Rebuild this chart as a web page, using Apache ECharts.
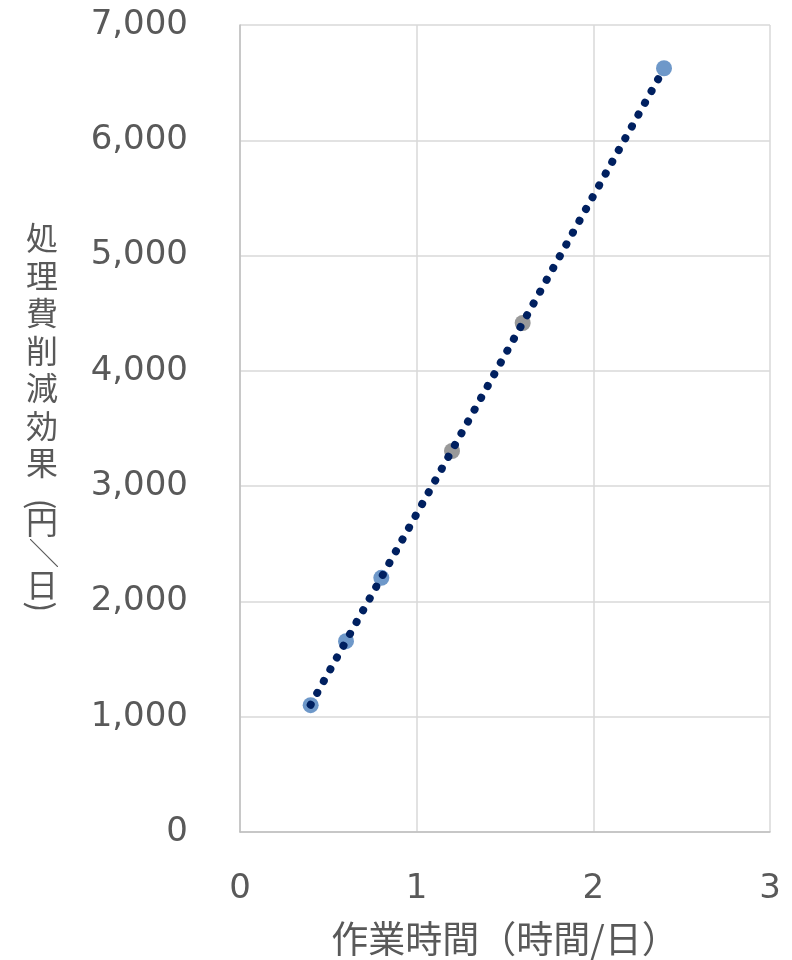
<!DOCTYPE html>
<html>
<head>
<meta charset="utf-8">
<script src="https://cdn.jsdelivr.net/npm/echarts@6/dist/echarts.min.js"></script>
<style>
  html, body { margin: 0; padding: 0; background: #fff; }
  #chart { width: 792px; height: 960px; }
</style>
</head>
<body>
<div id="chart"></div>
<script>
// 作業時間（時間/日） vs 処理費削減効果（円/日）
var bluePoints = [[0.4, 1100], [0.6, 1655], [0.8, 2205], [2.4, 6625]]
var grayPoints = [[1.2, 3305], [1.6, 4415]]
// linear trendline end points
var trendLine = [[0.4, 1104], [2.4, 6622]]

var xTicks = [0, 1, 2, 3]
var yTicks = [0, 1000, 2000, 3000, 4000, 5000, 6000, 7000]

var labelFont = '"DejaVu Sans", Verdana, sans-serif'
var cjkFont = '"Noto Sans CJK JP", sans-serif'

// vertical axis title, one character per line; the brackets are drawn
// separately (rotated) because they lie sideways in vertical writing
var yNameMain = ['処', '理', '費', '削', '減', '効', '果']
var yName = yNameMain.map(function (c) { return '{a|' + c + '}' })
  .concat(['{g1|　}', '{u1|円}', '{s|╲}', '{u2|日}', '{g2|　}'])
  .join('\n')

function nameStyle(lh, size) {
  return { fontFamily: cjkFont, fontSize: size || 32, color: '#595959', lineHeight: lh }
}

function sideBracket(ch, y) {
  return {
    type: 'text',
    x: 42,
    y: y,
    rotation: -Math.PI / 2,
    style: {
      text: ch,
      fontFamily: cjkFont,
      fontSize: 32,
      fill: '#595959',
      align: 'center',
      verticalAlign: 'middle'
    }
  }
}

var chart = echarts.init(document.getElementById('chart'))
var option = {
  animation: false,
  grid: { left: 240, right: 22, top: 25, bottom: 128, outerBoundsMode: 'none' },
  graphic: [sideBracket('(', 504), sideBracket(')', 607)],
  xAxis: {
    type: 'value',
    min: xTicks[0],
    max: xTicks[xTicks.length - 1],
    interval: 1,
    name: '作業時間（時間/日）',
    nameLocation: 'middle',
    nameGap: 88,
    nameTextStyle: { fontFamily: cjkFont, fontSize: 37, color: '#595959' },
    axisLine: { show: true, onZero: false, lineStyle: { color: '#bfbfbf', width: 1.5 } },
    axisTick: { show: false },
    axisLabel: { fontFamily: labelFont, fontSize: 34, color: '#595959', margin: 40 },
    splitLine: { show: true, lineStyle: { color: '#d9d9d9', width: 1.5 } }
  },
  yAxis: {
    type: 'value',
    min: yTicks[0],
    max: yTicks[yTicks.length - 1],
    interval: 1000,
    name: yName,
    nameLocation: 'middle',
    nameRotate: 0,
    nameGap: 182,
    nameTextStyle: {
      fontFamily: cjkFont, fontSize: 32, color: '#595959', lineHeight: 37.5,
      rich: {
        a: nameStyle(37.5),
        g1: nameStyle(24),
        u1: nameStyle(32),
        s: nameStyle(30, 28),
        u2: nameStyle(34),
        g2: nameStyle(35.5)
      }
    },
    axisLine: { show: true, lineStyle: { color: '#bfbfbf', width: 1.5 } },
    axisTick: { show: false },
    axisLabel: {
      fontFamily: labelFont, fontSize: 34, color: '#595959', margin: 52,
      formatter: function (v) { return v.toLocaleString('en-US') }
    },
    splitLine: { show: true, lineStyle: { color: '#d9d9d9', width: 1.5 } }
  },
  series: [
    {
      type: 'scatter',
      data: bluePoints,
      symbolSize: 16,
      itemStyle: { color: '#4a7ebb' },
      z: 2
    },
    {
      type: 'scatter',
      data: grayPoints,
      symbolSize: 16,
      itemStyle: { color: '#7f7f7f' },
      z: 2
    },
    {
      type: 'line',
      data: trendLine,
      showSymbol: false,
      symbol: 'none',
      lineStyle: { color: '#002060', width: 8, type: [0.1, 13.4], cap: 'round' },
      z: 3
    }
  ]
}
chart.setOption(option)
</script>
</body>
</html>
